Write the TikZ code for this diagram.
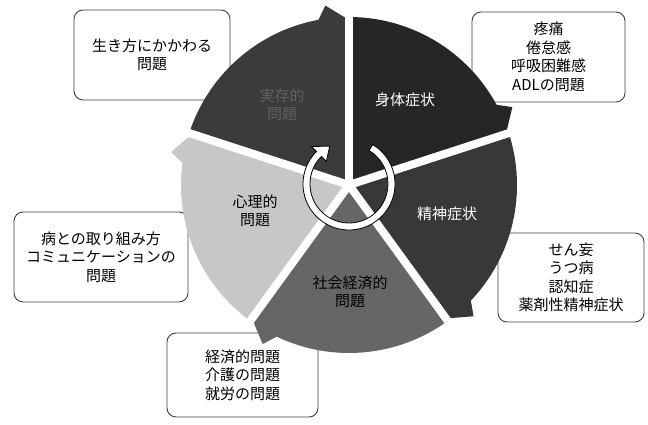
\documentclass[tikz,border=0pt]{standalone}
\usepackage{fontspec}
\setmainfont{Noto Sans CJK JP}
\tikzset{
  infobox/.style={draw=black!75, line width=0.9pt, rounded corners=9pt, fill=white, align=center,
    font=\fontsize{15}{18.5}\selectfont, inner sep=0pt},
  seglabel/.style={align=center, font=\fontsize{15}{18}\selectfont, inner sep=0pt},
  gapline/.style={white, line width=8pt},
  ringarrow/.style={fill=white, draw=black, line width=0.8pt},
}
\begin{document}
\begin{tikzpicture}[x=1pt,y=1pt]
\useasboundingbox (0,0) rectangle (648,425);
% boxes (drawn first, segments overlap them)
\node[infobox, minimum width=156pt, minimum height=90pt] (boxA) at (152,370) {生き方にかかわる\\問題};
\node[infobox, minimum width=153pt, minimum height=90pt] (boxB) at (548.5,368) {疼痛\\倦怠感\\呼吸困難感\\ADLの問題};
\node[infobox, minimum width=174pt, minimum height=90pt] (boxC) at (101,168) {病との取り組み方\\コミュニケーションの\\問題};
\node[infobox, minimum width=146pt, minimum height=89pt] (boxD) at (571,147.5) {せん妄\\うつ病\\認知症\\薬剤性精神症状};
\node[infobox, minimum width=151pt, minimum height=84pt] (boxE) at (242.5,50) {経済的問題\\介護の問題\\就労の問題};
% segments
\begin{scope}[shift={(349,240)}]
\fill[black!85] (0,0) -- (90:168) arc[start angle=90, end angle=28.5, radius=168pt] -- (25.5:181) -- (18:165) -- cycle;
\fill[black!78] (0,0) -- (18:168) arc[start angle=18, end angle=-43.5, radius=168pt] -- (-46.5:181) -- (-54:165) -- cycle;
\fill[black!60] (0,0) -- (-54:168) arc[start angle=-54, end angle=-115.5, radius=168pt] -- (-118.5:181) -- (-126:165) -- cycle;
\fill[black!22] (0,0) -- (234:168) arc[start angle=234, end angle=172.5, radius=168pt] -- (169.5:181) -- (162:165) -- cycle;
\fill[black!77] (0,0) -- (162:168) arc[start angle=162, end angle=100.5, radius=168pt] -- (97.5:181) -- (90:165) -- cycle;
\foreach \a in {90,18,-54,-126,162}{
  \draw[gapline] (0,0) -- (\a:175);
}
\end{scope}
% inner circular arrow
\begin{scope}[shift={(349,241)}]
\filldraw[ringarrow] (59:46) arc[start angle=59, end angle=-225, radius=46pt]
  -- (135:53) -- (117:42.5) -- (135:32) -- (135:39)
  arc[start angle=-225, end angle=59, radius=39pt] -- cycle;
\end{scope}
% segment labels
\node[seglabel, text=white] (s1) at (405,325) {身体症状};
\node[seglabel, text=white] (s2) at (447,211) {精神症状};
\node[seglabel, text=black] (s3) at (350,133) {社会経済的\\問題};
\node[seglabel, text=black] (s4) at (255,214) {心理的\\問題};
\node[seglabel, text=black!62] (s5) at (282,320) {実存的\\問題};
\end{tikzpicture}
\end{document}
